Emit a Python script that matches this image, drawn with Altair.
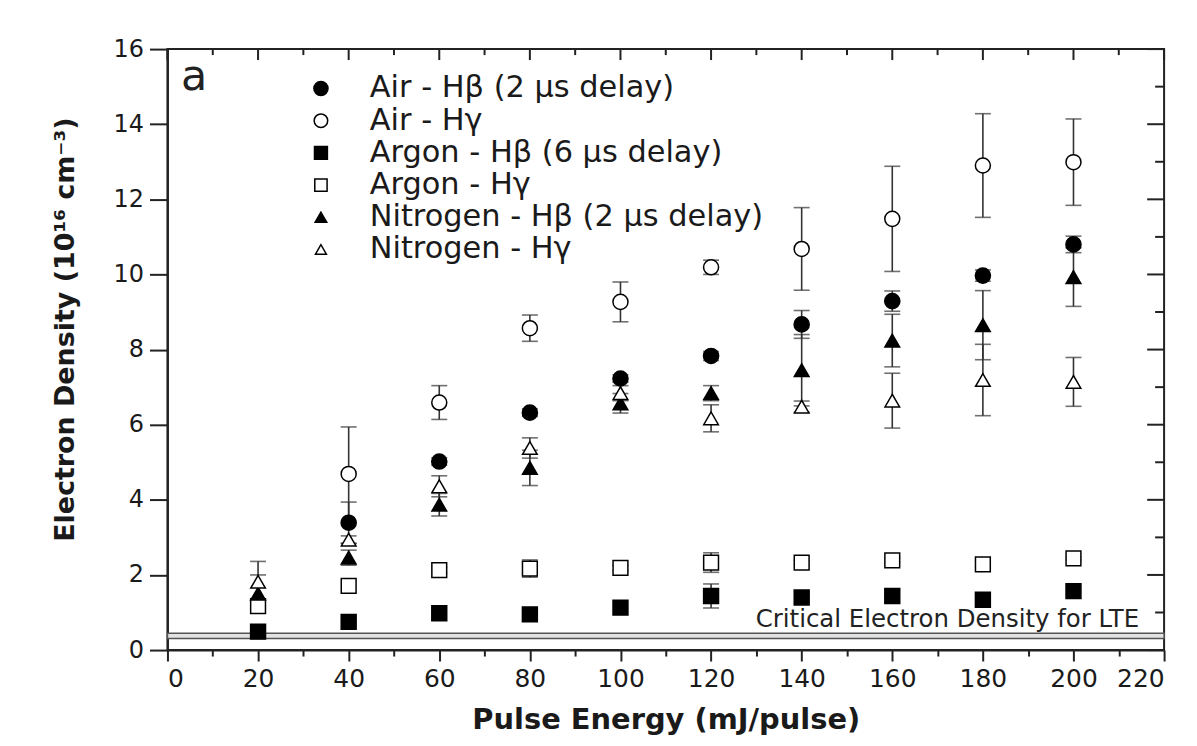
import altair as alt
import pandas as pd

# ---------------- data ----------------
energy = [20, 40, 60, 80, 100, 120, 140, 160, 180, 200]

series_names = [
    "Air - Hβ (2 μs delay)",
    "Air - Hγ",
    "Argon - Hβ (6 μs delay)",
    "Argon - Hγ",
    "Nitrogen - Hβ (2 μs delay)",
    "Nitrogen - Hγ",
]
series_shapes = ["circle", "circle", "square", "square", "triangle-up", "triangle-up"]
series_fills = ["black", "white", "black", "white", "black", "white"]
series_sizes = [230, 215, 170, 165, 300, 290]
legend_sizes = [200, 120, 150, 110, 280, 210]

air_hb = [None, 3.39, 5.02, 6.32, 7.23, 7.83, 8.67, 9.29, 9.97, 10.80]
air_hb_err = [None, 0.55, 0.10, 0.10, 0.10, 0.12, 0.37, 0.27, 0.15, 0.22]
air_hg = [None, 4.69, 6.59, 8.57, 9.27, 10.19, 10.68, 11.48, 12.90, 12.99]
air_hg_err = [None, 1.25, 0.45, 0.35, 0.53, 0.19, 1.10, 1.40, 1.38, 1.15]
ar_hb = [0.49, 0.75, 0.98, 0.95, 1.13, 1.44, 1.40, 1.44, 1.34, 1.57]
ar_hb_err = [0.0, 0.0, 0.0, 0.0, 0.0, 0.32, 0.0, 0.0, 0.0, 0.0]
ar_hg = [1.17, 1.71, 2.13, 2.17, 2.19, 2.33, 2.33, 2.39, 2.28, 2.44]
ar_hg_err = [0.10, 0.0, 0.07, 0.23, 0.07, 0.26, 0.05, 0.06, 0.08, 0.04]
n_hb = [1.50, 2.46, 3.87, 4.85, 6.57, 6.84, 7.45, 8.24, 8.65, 9.93]
n_hb_err = [0.50, 0.20, 0.30, 0.47, 0.26, 0.20, 0.95, 0.70, 0.92, 0.78]
n_hg = [1.82, 2.94, 4.36, 5.38, 6.84, 6.17, 6.48, 6.64, 7.19, 7.14]
n_hg_err = [0.54, 0.10, 0.28, 0.27, 0.20, 0.36, 0.15, 0.73, 0.95, 0.65]

values = [air_hb, air_hg, ar_hb, ar_hg, n_hb, n_hg]
errors = [air_hb_err, air_hg_err, ar_hb_err, ar_hg_err, n_hb_err, n_hg_err]

# critical electron density band & annotations
critical_lo, critical_hi = 0.31, 0.45
critical_label = "Critical Electron Density for LTE"
critical_label_x, critical_label_y = 214.5, 0.80
panel_label = "a"
panel_label_x, panel_label_y = 3.0, 14.9

x_major = list(range(0, 221, 20))
x_minor = list(range(10, 220, 20))
y_major = list(range(0, 17, 2))
y_minor = list(range(1, 16, 2))

# ---------------- build table ----------------
rows = []
for name, vals, errs in zip(series_names, values, errors):
    for e, v, s in zip(energy, vals, errs):
        if v is None:
            continue
        rows.append({"series": name, "energy": e, "density": v,
                     "lo": v - s, "hi": v + s, "err": s})
df = pd.DataFrame(rows)
df_err = df[df["err"] > 0]
df_legend = pd.DataFrame({"series": series_names})

W, H = 1000, 603
FONT = "DejaVu Sans"
INK = "#1a1a1a"

xscale = alt.Scale(domain=[0, 220], nice=False, zero=False)
yscale = alt.Scale(domain=[0, 16], nice=False, zero=False)

x_axis = alt.Axis(
    values=list(range(0, 221, 10)),
    labelExpr="datum.value % 20 === 0 ? datum.label : ''",
    tickSize={"condition": {"test": "datum.value % 20 === 0", "value": 11}, "value": 6},
    grid=False, domainColor="#222", domainWidth=2, tickColor="#222", tickWidth=2,
    labelFont=FONT, labelFontSize=25, labelColor=INK, labelPadding=6,
    title="Pulse Energy (mJ/pulse)", titleFont=FONT, titleFontSize=29,
    titleFontWeight="bold", titleColor=INK, titlePadding=14,
)
y_axis = alt.Axis(
    values=list(range(0, 17, 1)),
    labelExpr="datum.value % 2 === 0 ? datum.label : ''",
    tickSize={"condition": {"test": "datum.value % 2 === 0", "value": 18}, "value": 10},
    grid=False, domainColor="#222", domainWidth=2, tickColor="#222", tickWidth=2,
    labelFont=FONT, labelFontSize=24, labelColor=INK, labelPadding=6,
    title="Electron Density (10¹⁶ cm⁻³)", titleFont=FONT, titleFontSize=27,
    titleFontWeight="bold", titleColor=INK, titlePadding=34, titleY=281,
)

X = alt.X("energy:Q", scale=xscale, axis=x_axis)
Y = alt.Y("density:Q", scale=yscale, axis=y_axis)

band = alt.Chart(pd.DataFrame({"lo": [critical_lo], "hi": [critical_hi]})).mark_rect(
    fill="#e2e2e2", stroke="#555", strokeWidth=1.5
).encode(
    x=alt.value(0), x2=alt.value(W),
    y=alt.Y("lo:Q", scale=yscale, axis=y_axis), y2="hi:Q",
)

err_rule = alt.Chart(df_err).mark_rule(color="#333", strokeWidth=1.6).encode(
    x=X, y=alt.Y("lo:Q", scale=yscale), y2="hi:Q"
)
cap_lo = alt.Chart(df_err).mark_tick(color="#333", thickness=1.6, size=16,
                                     orient="horizontal").encode(
    x=X, y=alt.Y("lo:Q", scale=yscale)
)
cap_hi = alt.Chart(df_err).mark_tick(color="#333", thickness=1.6, size=16,
                                     orient="horizontal").encode(
    x=X, y=alt.Y("hi:Q", scale=yscale)
)

shape_enc = alt.Shape("series:N", scale=alt.Scale(domain=series_names, range=series_shapes),
                      legend=None)
fill_enc = alt.Fill("series:N", scale=alt.Scale(domain=series_names, range=series_fills),
                    legend=None)

points = alt.Chart(df).mark_point(filled=True, stroke="black", strokeWidth=1.5, opacity=1).encode(
    x=X, y=Y, shape=shape_enc, fill=fill_enc,
    size=alt.Size("series:N", scale=alt.Scale(domain=series_names, range=series_sizes),
                  legend=None),
)

crit_text = alt.Chart(pd.DataFrame({"x": [critical_label_x], "y": [critical_label_y],
                                    "t": [critical_label]})).mark_text(
    align="right", baseline="middle", font=FONT, fontSize=24.5, color="#222"
).encode(x=alt.X("x:Q", scale=xscale), y=alt.Y("y:Q", scale=yscale), text="t:N")

panel_text = alt.Chart(pd.DataFrame({"x": [panel_label_x], "y": [panel_label_y],
                                     "t": [panel_label]})).mark_text(
    align="left", baseline="alphabetic", font=FONT, fontSize=43, color="#222"
).encode(x=alt.X("x:Q", scale=xscale), y=alt.Y("y:Q", scale=yscale), text="t:N")

# mirrored inward ticks on top and right edges
top_major = alt.Chart(pd.DataFrame({"v": x_major})).mark_rule(color="#222", strokeWidth=2).encode(
    x=alt.X("v:Q", scale=xscale), y=alt.value(0), y2=alt.value(11))
top_minor = alt.Chart(pd.DataFrame({"v": x_minor})).mark_rule(color="#222", strokeWidth=2).encode(
    x=alt.X("v:Q", scale=xscale), y=alt.value(0), y2=alt.value(6))
right_major = alt.Chart(pd.DataFrame({"v": y_major})).mark_rule(color="#222", strokeWidth=2).encode(
    y=alt.Y("v:Q", scale=yscale), x=alt.value(W), x2=alt.value(W - 17))
right_minor = alt.Chart(pd.DataFrame({"v": y_minor})).mark_rule(color="#222", strokeWidth=2).encode(
    y=alt.Y("v:Q", scale=yscale), x=alt.value(W), x2=alt.value(W - 9))

main = alt.layer(
    band, err_rule, cap_lo, cap_hi, points, crit_text, panel_text,
    top_major, top_minor, right_major, right_minor,
)

# legend drawn as its own layer, rows spaced by a point scale
legend_y = alt.Y("series:N", sort=series_names,
                 scale=alt.Scale(domain=series_names, range=[39.5, 201], padding=0),
                 axis=None)
legend_pts = alt.Chart(df_legend).mark_point(filled=True, stroke="black", strokeWidth=1.5,
                                             opacity=1).encode(
    x=alt.value(154), y=legend_y, shape=shape_enc, fill=fill_enc,
    size=alt.Size("series:N", scale=alt.Scale(domain=series_names, range=legend_sizes),
                  legend=None),
)
legend_txt = alt.Chart(df_legend).mark_text(
    align="left", baseline="middle", font=FONT, fontSize=30.5, color=INK
).encode(x=alt.value(203), y=legend_y, text="series:N")
legend_layer = alt.layer(legend_pts, legend_txt)

chart = alt.layer(main, legend_layer).resolve_scale(
    y="independent", size="independent"
).properties(
    width=W, height=H,
    autosize=alt.AutoSizeParams(type="none"),
    padding={"left": 160, "top": 40, "right": 25, "bottom": 87},
    background="white",
).configure_view(
    stroke="#222", strokeWidth=2
)

chart.save("out.html", embed_options={"renderer": "svg", "actions": False})
